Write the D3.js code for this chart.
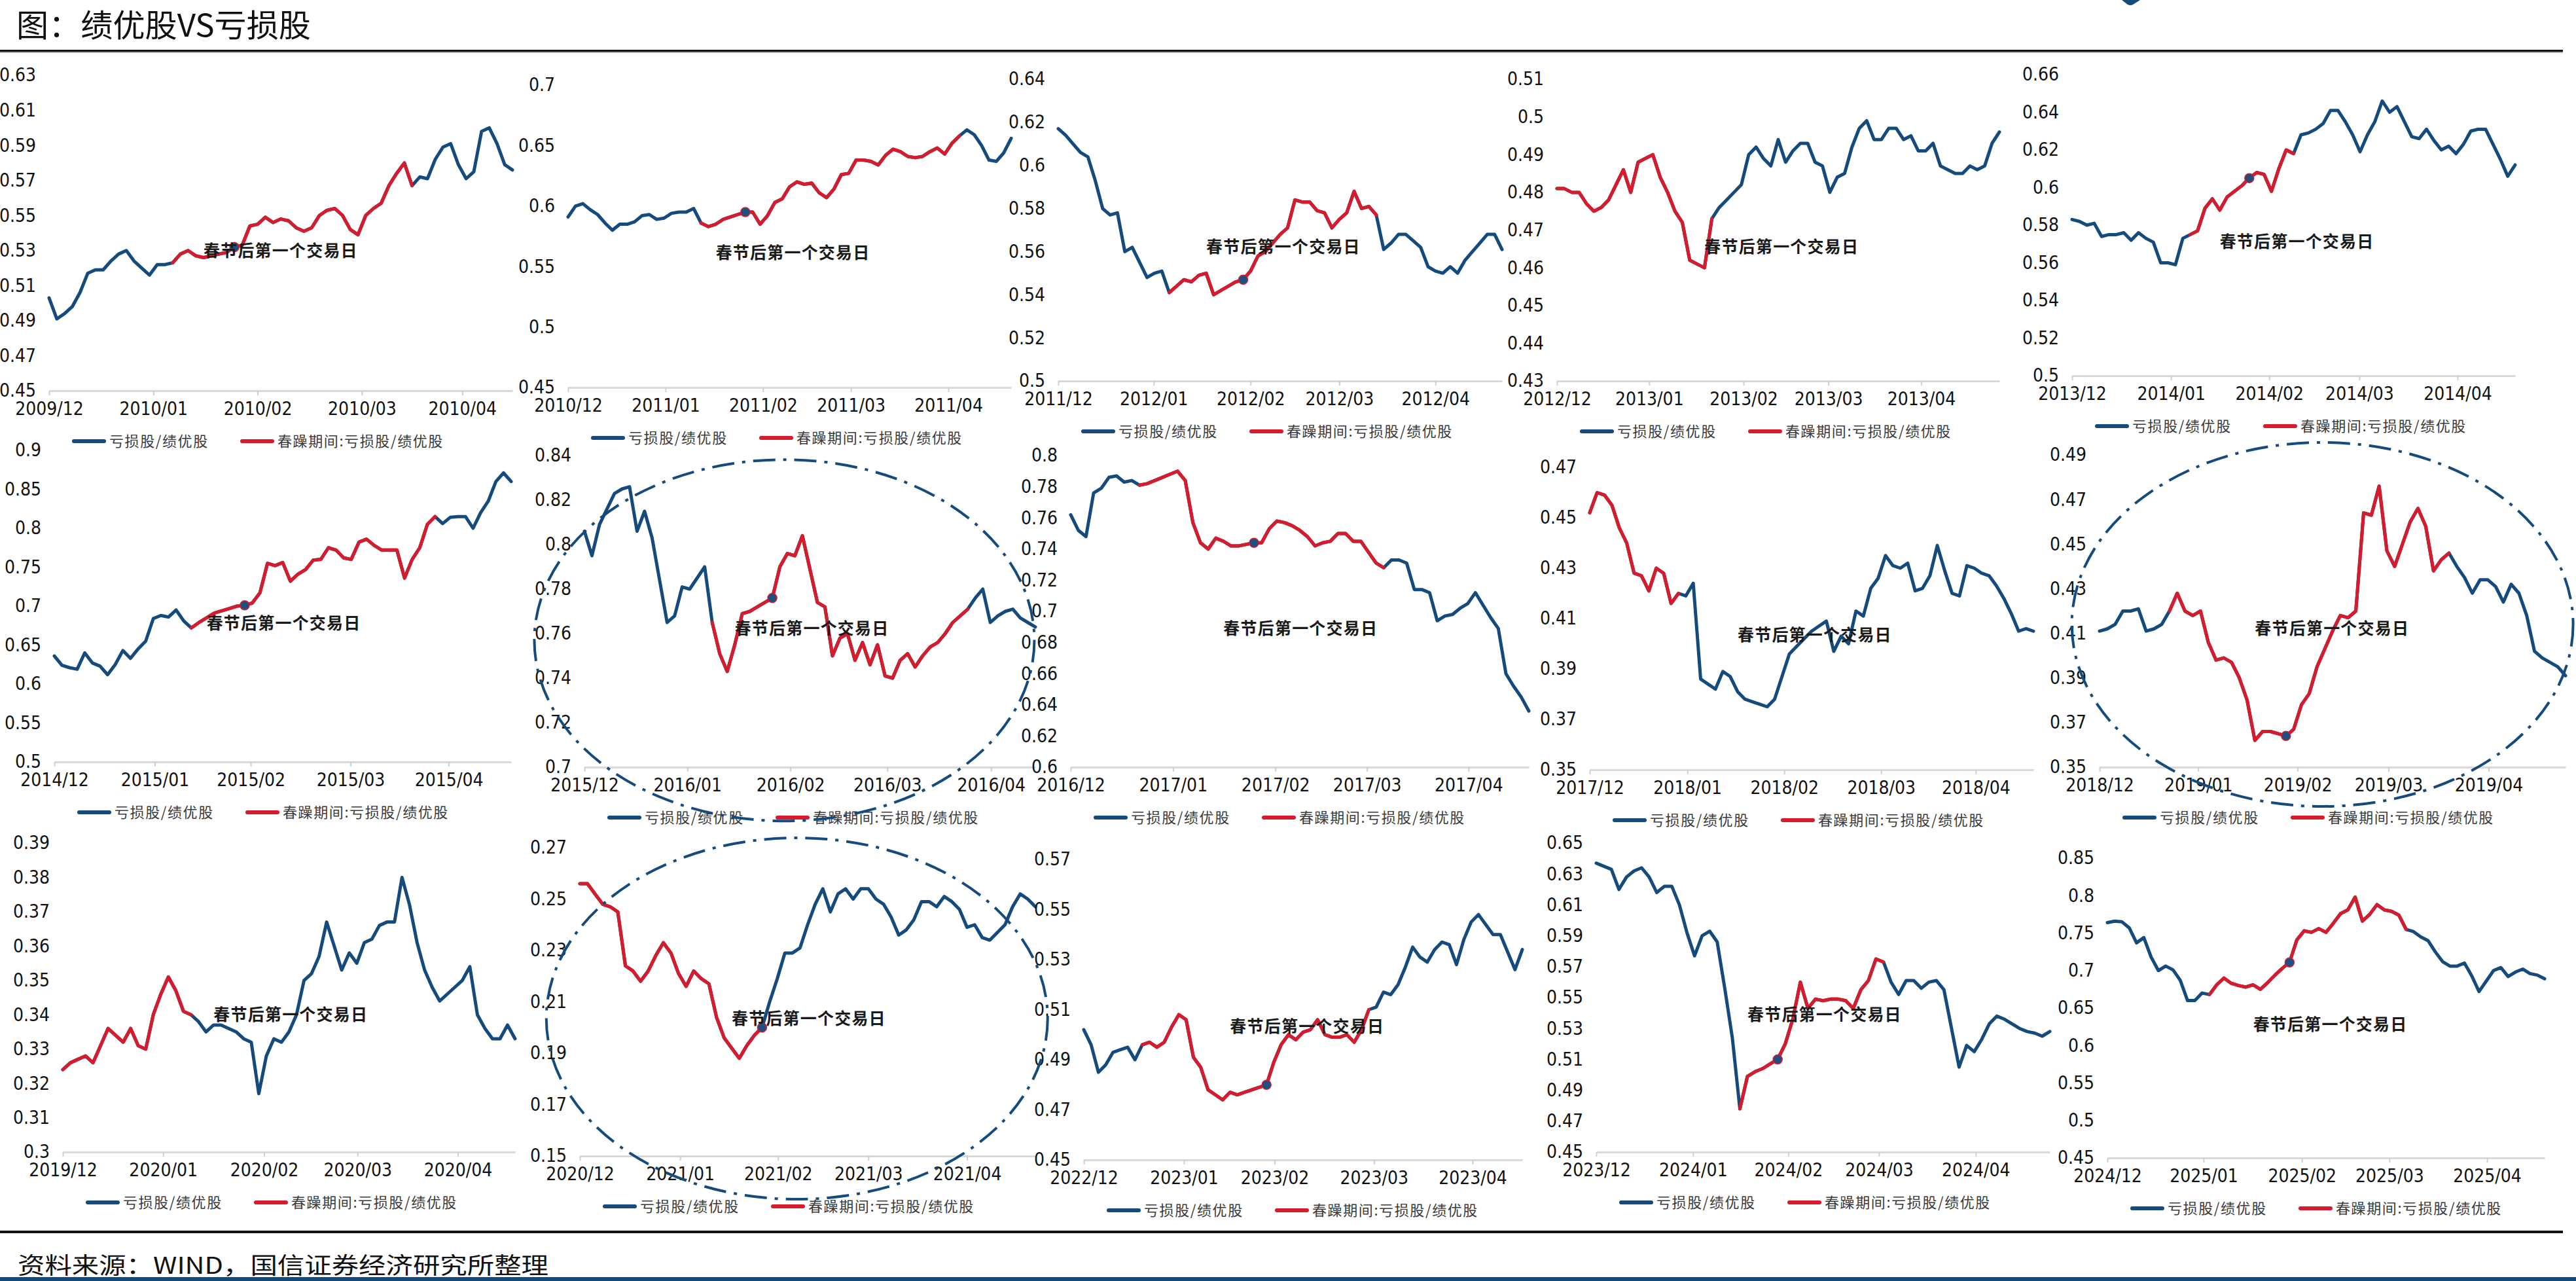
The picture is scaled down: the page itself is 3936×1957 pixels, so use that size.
<!DOCTYPE html>
<html>
<head>
<meta charset="utf-8">
<script src="https://cdn.jsdelivr.net/npm/d3@7"></script>
<style>
  body { margin: 0; background: #fff; }
  svg { display: block; }
</style>
</head>
<body>
<div id="chart"></div>
<script>
// ---- data: 亏损股/绩优股 ratio around each Spring Festival ----
const panelYears = [2010, 2011, 2012, 2013, 2014, 2015, 2016, 2017, 2018, 2019, 2020, 2021, 2023, 2024, 2025];
const monthNames = ["12", "01", "02", "03", "04"];

// trading-day index where each month label sits
const monthStartIdx = [
  [0, 13.5, 27.0, 40.5, 53.5], [0, 13.2, 26.4, 38.3, 51.5], [0, 12.9, 26.0, 38.0, 51.0],
  [0, 12.5, 25.3, 36.8, 49.4], [0, 13.4, 26.7, 38.9, 52.2], [0, 13.2, 25.8, 38.9, 51.8],
  [0, 13.7, 27.4, 40.3, 54.1], [0, 13.4, 26.8, 38.8, 52.1], [0, 13.2, 26.3, 39.4, 52.2],
  [0, 12.7, 25.5, 37.2, 50.1], [0, 13.3, 26.7, 39.1, 52.4], [0, 13.2, 26.1, 38.0, 51.0],
  [0, 13.7, 26.1, 39.7, 53.2], [0, 12.8, 25.4, 37.4, 50.2], [0, 13.2, 26.7, 38.7, 52.1]
];

// y axis [min, max, step]
const yDomains = [
  [0.45, 0.63, 0.02], [0.45, 0.70, 0.05], [0.50, 0.64, 0.02], [0.43, 0.51, 0.01], [0.50, 0.66, 0.02],
  [0.50, 0.90, 0.05], [0.70, 0.84, 0.02], [0.60, 0.80, 0.02], [0.35, 0.47, 0.02], [0.35, 0.49, 0.02],
  [0.30, 0.39, 0.01], [0.15, 0.27, 0.02], [0.45, 0.57, 0.02], [0.45, 0.65, 0.02], [0.45, 0.85, 0.05]
];

// 春躁期间 (first, last index) and first trading day after the holiday
const springRange = [[16, 47], [18, 53], [15, 43], [0, 21], [16, 30], [18, 50], [17, 51], [9, 41],
                     [0, 12], [9, 45], [0, 17], [0, 24], [8, 39], [19, 38], [14, 41]];
const festivalIdx = [24, 24, 25, null, 24, 25, 25, 24, null, 24, null, 24, 25, 24, 25];

const ratio2010 = [0.503,0.491,0.494,0.498,0.506,0.517,0.519,0.519,0.524,0.528,
  0.530,0.524,0.520,0.516,0.522,0.522,0.523,0.528,0.530,0.527,
  0.526,0.527,0.528,0.529,0.532,0.533,0.544,0.545,0.549,0.546,
  0.548,0.547,0.543,0.541,0.543,0.550,0.553,0.554,0.550,0.542,
  0.539,0.550,0.554,0.557,0.567,0.574,0.580,0.567,0.572,0.571,
  0.582,0.589,0.591,0.579,0.571,0.575,0.598,0.600,0.591,0.579,0.576];
const ratio2011 = [0.591,0.600,0.602,0.597,0.593,0.586,0.580,0.585,0.585,0.587,
  0.592,0.593,0.589,0.590,0.594,0.595,0.595,0.598,0.586,0.583,
  0.585,0.589,0.591,0.593,0.595,0.595,0.585,0.592,0.603,0.606,
  0.616,0.620,0.618,0.619,0.611,0.607,0.614,0.626,0.627,0.638,
  0.638,0.637,0.634,0.642,0.647,0.645,0.641,0.640,0.641,0.645,
  0.648,0.643,0.652,0.658,0.663,0.659,0.650,0.638,0.637,0.644,0.656];
const ratio2012 = [0.617,0.614,0.610,0.606,0.604,0.593,0.580,0.577,0.578,0.560,
  0.562,0.555,0.548,0.550,0.551,0.541,0.544,0.547,0.546,0.549,
  0.550,0.540,0.542,0.544,0.546,0.547,0.551,0.558,0.560,0.564,
  0.568,0.571,0.584,0.583,0.583,0.579,0.578,0.571,0.575,0.578,
  0.588,0.580,0.581,0.577,0.561,0.564,0.568,0.568,0.565,0.562,
  0.553,0.551,0.550,0.553,0.550,0.556,0.560,0.564,0.568,0.568,0.561];
const ratio2013 = [0.481,0.481,0.480,0.480,0.477,0.475,0.476,0.478,0.482,0.486,
  0.480,0.488,0.489,0.490,0.484,0.480,0.475,0.472,0.462,0.461,
  0.460,0.473,0.476,0.478,0.480,0.482,0.490,0.492,0.489,0.487,
  0.494,0.488,0.491,0.493,0.493,0.488,0.487,0.480,0.484,0.485,
  0.492,0.497,0.499,0.494,0.494,0.497,0.497,0.494,0.495,0.491,
  0.491,0.493,0.487,0.486,0.485,0.485,0.487,0.486,0.487,0.493,0.496];
const ratio2014 = [0.583,0.582,0.580,0.581,0.574,0.575,0.575,0.576,0.572,0.576,
  0.573,0.571,0.560,0.560,0.559,0.573,0.575,0.577,0.589,0.594,
  0.588,0.595,0.598,0.601,0.605,0.608,0.607,0.598,0.610,0.620,
  0.618,0.628,0.629,0.631,0.634,0.641,0.641,0.635,0.628,0.619,
  0.628,0.635,0.646,0.640,0.643,0.635,0.627,0.626,0.631,0.625,
  0.620,0.622,0.618,0.623,0.630,0.631,0.631,0.623,0.615,0.606,0.612];
const ratio2015 = [0.636,0.624,0.621,0.619,0.640,0.627,0.623,0.612,0.625,0.643,
  0.633,0.645,0.655,0.684,0.688,0.686,0.695,0.681,0.672,0.679,
  0.685,0.691,0.694,0.697,0.700,0.701,0.704,0.717,0.755,0.752,
  0.756,0.732,0.741,0.747,0.759,0.760,0.775,0.772,0.762,0.760,
  0.782,0.786,0.778,0.772,0.772,0.772,0.736,0.760,0.775,0.805,
  0.815,0.806,0.814,0.815,0.815,0.800,0.820,0.835,0.860,0.871,0.860];
const ratio2016 = [0.806,0.795,0.809,0.816,0.823,0.825,0.826,0.806,0.815,0.803,
  0.784,0.765,0.768,0.781,0.780,0.785,0.790,0.765,0.751,0.743,
  0.755,0.769,0.770,0.772,0.774,0.776,0.790,0.796,0.795,0.804,
  0.789,0.774,0.772,0.750,0.758,0.760,0.748,0.756,0.746,0.755,
  0.741,0.740,0.748,0.751,0.745,0.750,0.754,0.756,0.760,0.765,
  0.768,0.771,0.776,0.780,0.765,0.768,0.770,0.771,0.767,0.765,0.763];
const ratio2017 = [0.762,0.752,0.748,0.776,0.779,0.786,0.787,0.783,0.784,0.781,
  0.782,0.784,0.786,0.788,0.790,0.784,0.757,0.744,0.740,0.747,
  0.745,0.742,0.742,0.743,0.744,0.744,0.753,0.758,0.757,0.755,
  0.752,0.748,0.742,0.744,0.745,0.750,0.750,0.745,0.745,0.738,
  0.731,0.728,0.733,0.733,0.731,0.714,0.714,0.712,0.694,0.697,
  0.698,0.702,0.705,0.712,0.704,0.696,0.689,0.660,0.652,0.645,0.636];
const ratio2018 = [0.452,0.460,0.459,0.455,0.446,0.440,0.428,0.427,0.421,0.430,
  0.428,0.416,0.420,0.419,0.424,0.386,0.384,0.382,0.389,0.387,
  0.381,0.378,0.377,0.376,0.375,0.378,0.387,0.396,0.399,0.402,
  0.405,0.407,0.409,0.397,0.403,0.400,0.413,0.411,0.422,0.426,
  0.435,0.431,0.430,0.432,0.421,0.422,0.427,0.439,0.429,0.420,
  0.419,0.431,0.430,0.428,0.427,0.423,0.418,0.412,0.405,0.406,0.405];
const ratio2019 = [0.411,0.412,0.414,0.420,0.420,0.421,0.411,0.412,0.414,0.420,
  0.428,0.420,0.418,0.420,0.406,0.398,0.399,0.397,0.390,0.380,
  0.362,0.366,0.366,0.365,0.364,0.367,0.378,0.383,0.395,0.403,
  0.411,0.418,0.417,0.420,0.464,0.463,0.476,0.447,0.440,0.450,
  0.460,0.466,0.458,0.438,0.443,0.446,0.440,0.435,0.428,0.434,
  0.434,0.431,0.424,0.432,0.428,0.418,0.402,0.399,0.397,0.395,0.391];
const ratio2020 = [0.324,0.326,0.327,0.328,0.326,0.331,0.336,0.334,0.332,0.336,
  0.331,0.330,0.340,0.346,0.351,0.347,0.341,0.340,0.338,0.335,
  0.337,0.337,0.336,0.335,0.333,0.332,0.317,0.328,0.333,0.332,
  0.335,0.340,0.350,0.352,0.357,0.367,0.360,0.353,0.358,0.355,
  0.361,0.362,0.366,0.367,0.367,0.380,0.372,0.361,0.353,0.348,
  0.344,0.346,0.348,0.350,0.354,0.340,0.336,0.333,0.333,0.337,0.333];
const ratio2021 = [0.256,0.256,0.252,0.248,0.247,0.245,0.224,0.222,0.218,0.222,
  0.228,0.233,0.229,0.221,0.216,0.222,0.219,0.217,0.204,0.196,
  0.192,0.188,0.193,0.197,0.200,0.210,0.219,0.229,0.229,0.231,
  0.240,0.248,0.254,0.245,0.252,0.254,0.250,0.254,0.254,0.250,
  0.248,0.243,0.236,0.238,0.242,0.249,0.249,0.247,0.251,0.249,
  0.246,0.239,0.240,0.235,0.234,0.237,0.240,0.247,0.252,0.250,0.247];
const ratio2023 = [0.502,0.496,0.485,0.488,0.493,0.494,0.495,0.490,0.496,0.497,
  0.495,0.497,0.503,0.508,0.506,0.491,0.487,0.478,0.476,0.474,
  0.477,0.476,0.477,0.478,0.479,0.480,0.489,0.496,0.500,0.498,
  0.501,0.502,0.506,0.500,0.499,0.499,0.500,0.497,0.502,0.510,
  0.511,0.517,0.516,0.520,0.527,0.535,0.531,0.529,0.534,0.537,
  0.536,0.528,0.538,0.545,0.548,0.544,0.540,0.540,0.533,0.526,0.534];
const ratio2024 = [0.637,0.635,0.633,0.620,0.628,0.632,0.634,0.628,0.618,0.622,
  0.622,0.610,0.592,0.577,0.590,0.593,0.586,0.556,0.524,0.478,
  0.499,0.502,0.504,0.507,0.510,0.520,0.536,0.560,0.543,0.549,
  0.548,0.549,0.549,0.548,0.543,0.555,0.561,0.575,0.573,0.560,
  0.552,0.561,0.561,0.556,0.560,0.561,0.555,0.530,0.505,0.519,
  0.515,0.523,0.533,0.538,0.536,0.533,0.530,0.528,0.527,0.525,0.528];
const ratio2025 = [0.764,0.766,0.765,0.757,0.737,0.744,0.718,0.700,0.706,0.701,
  0.687,0.660,0.660,0.670,0.668,0.681,0.690,0.683,0.680,0.678,
  0.681,0.675,0.684,0.694,0.703,0.711,0.741,0.753,0.751,0.756,
  0.751,0.763,0.776,0.781,0.798,0.766,0.775,0.788,0.781,0.779,
  0.774,0.755,0.752,0.745,0.740,0.725,0.712,0.706,0.706,0.710,
  0.693,0.672,0.686,0.700,0.704,0.692,0.698,0.702,0.696,0.694,0.689];

const ratioSeries = [ratio2010, ratio2011, ratio2012, ratio2013, ratio2014, ratio2015, ratio2016,
  ratio2017, ratio2018, ratio2019, ratio2020, ratio2021, ratio2023, ratio2024, ratio2025];

// ---- layout ----
const W = 3936, H = 1957;
const BLUE = "#154b7c", RED = "#d81b2c", AXIS = "#d9d9d9";
const numFont = "'Liberation Sans Narrow', 'Arial Narrow', 'DejaVu Sans Condensed', sans-serif";
const cjkFont = "'Noto Sans CJK SC', 'Noto Sans', sans-serif";

// plot box per panel: [left, right, top tick y, baseline y]
const boxes = [
  [75, 783, 115, 597], [868, 1545, 130, 592], [1617, 2295, 121, 582], [2379, 3055, 121, 582], [3166, 3843, 114, 574],
  [83, 781, 688, 1164], [893, 1582, 696, 1172], [1636, 2336, 696, 1172], [2429, 3107, 714, 1176], [3208, 3920, 695, 1172],
  [96, 787, 1288, 1760], [886, 1582, 1295, 1766], [1656, 2326, 1313, 1772], [2439, 3132, 1288, 1760], [3220, 3888, 1311, 1769]
];
// dash-dot rings, centred on (index, value)
const rings = [
  {panel: 6, idx: 26.6, val: 0.757, rx: 382, ry: 276},
  {panel: 9, idx: 28.7, val: 0.414, rx: 383, ry: 278},
  {panel: 11, idx: 28.6, val: 0.2035, rx: 383, ry: 276}
];

const svg = d3.select("#chart").append("svg")
  .attr("width", W).attr("height", H)
  .style("background", "#fff");

// header
svg.append("text")
  .attr("x", 25).attr("y", 56)
  .attr("font-family", cjkFont).attr("font-size", 48)
  .attr("textLength", 450).attr("lengthAdjust", "spacingAndGlyphs")
  .attr("fill", "#111")
  .text("图：绩优股VS亏损股");
svg.append("rect").attr("x", 0).attr("y", 76).attr("width", 3916).attr("height", 3.5).attr("fill", "#111");
svg.append("rect").attr("x", 0).attr("y", 79.5).attr("width", 3916).attr("height", 1.5).attr("fill", "#b5b5b5");
svg.append("path")
  .attr("d", "M3242,0 L3270,0 L3259,7 Q3255,9 3251,7 Z")
  .attr("fill", BLUE);

const scales = [];

ratioSeries.forEach((vals, p) => {
  const [x0, x1, yTop, yBot] = boxes[p];
  const [lo, hi, step] = yDomains[p];
  const x = d3.scaleLinear().domain([0, vals.length - 1]).range([x0, x1]);
  const y = d3.scaleLinear().domain([lo, hi]).range([yBot, yTop]);
  scales.push({x, y});
  const g = svg.append("g").attr("class", "panel");

  // y labels
  const nTicks = Math.round((hi - lo) / step);
  const yTicks = d3.range(nTicks + 1).map(k => +(lo + k * step).toFixed(3));
  const yAxis = g.append("g")
    .attr("transform", `translate(${x0 - 20},0)`)
    .call(d3.axisLeft(y).tickValues(yTicks).tickSize(0).tickPadding(0).tickFormat(d3.format(".2~f")));
  yAxis.select(".domain").remove();
  yAxis.selectAll("text")
    .attr("font-family", numFont).attr("font-size", 28).attr("fill", "#111");

  // x axis
  const labels = monthNames.map((m, k) => (k === 0 ? panelYears[p] - 1 : panelYears[p]) + "/" + m);
  const xAxis = g.append("g")
    .attr("transform", `translate(0,${yBot})`)
    .call(d3.axisBottom(x).tickValues(monthStartIdx[p]).tickFormat((d, k) => labels[k])
      .tickSizeInner(7).tickSizeOuter(0));
  xAxis.select(".domain").attr("stroke", AXIS).attr("stroke-width", 3);
  xAxis.selectAll(".tick line").attr("stroke", "#cfcfcf").attr("stroke-width", 2);
  xAxis.selectAll(".tick text")
    .attr("y", 27).attr("dy", "0.35em")
    .attr("font-family", numFont).attr("font-size", 28).attr("fill", "#111");

  // lines
  const line = d3.line().x(d => x(d[0])).y(d => y(d[1]));
  const pts = vals.map((v, i) => [i, v]);
  g.append("path")
    .attr("d", line(pts))
    .attr("fill", "none").attr("stroke", BLUE).attr("stroke-width", 5)
    .attr("stroke-linejoin", "round").attr("stroke-linecap", "round");
  const [r0, r1] = springRange[p];
  g.append("path")
    .attr("d", line(pts.slice(r0, r1 + 1)))
    .attr("fill", "none").attr("stroke", RED).attr("stroke-width", 5)
    .attr("stroke-linejoin", "round").attr("stroke-linecap", "round");

  const fi = festivalIdx[p];
  if (fi !== null) {
    g.append("circle")
      .attr("cx", x(fi)).attr("cy", y(vals[fi])).attr("r", 7)
      .attr("fill", "#1d4f80").attr("stroke", RED).attr("stroke-width", 1.5);
  }

  // note
  g.append("text")
    .attr("x", x0 + (x1 - x0) / 3)
    .attr("y", yTop + 0.555 * (yBot - yTop))
    .attr("dy", "0.36em")
    .attr("font-family", cjkFont).attr("font-size", 25).attr("font-weight", "bold")
    .attr("letter-spacing", 1.2).attr("fill", "#1a1a1a")
    .text("春节后第一个交易日");

  // legend
  const ly = yBot + 77;
  const legend = [
    {color: BLUE, label: "亏损股/绩优股", off: 38},
    {color: RED, label: "春躁期间:亏损股/绩优股", off: 295}
  ];
  legend.forEach(l => {
    g.append("line")
      .attr("x1", x0 + l.off).attr("x2", x0 + l.off + 46)
      .attr("y1", ly).attr("y2", ly)
      .attr("stroke", l.color).attr("stroke-width", 6).attr("stroke-linecap", "round");
    g.append("text")
      .attr("x", x0 + l.off + 54).attr("y", ly).attr("dy", "0.36em")
      .attr("font-family", cjkFont).attr("font-size", 22).attr("letter-spacing", 1.6)
      .attr("fill", "#3a3a3a")
      .text(l.label);
  });
});

// highlight rings
rings.forEach(r => {
  const {x, y} = scales[r.panel];
  svg.append("ellipse")
    .attr("cx", x(r.idx)).attr("cy", y(r.val))
    .attr("rx", r.rx).attr("ry", r.ry)
    .attr("fill", "none").attr("stroke", BLUE).attr("stroke-width", 4)
    .attr("stroke-dasharray", "34 12 5 12");
});

// footer
svg.append("rect").attr("x", 0).attr("y", 1880).attr("width", 3916).attr("height", 4).attr("fill", "#111");
svg.append("text")
  .attr("x", 27).attr("y", 1946)
  .attr("font-family", cjkFont).attr("font-size", 35)
  .attr("textLength", 811).attr("lengthAdjust", "spacingAndGlyphs")
  .attr("fill", "#111")
  .text("资料来源：WIND，国信证券经济研究所整理");
svg.append("rect").attr("x", 0).attr("y", 1951).attr("width", W).attr("height", 6).attr("fill", BLUE);
</script>
</body>
</html>
